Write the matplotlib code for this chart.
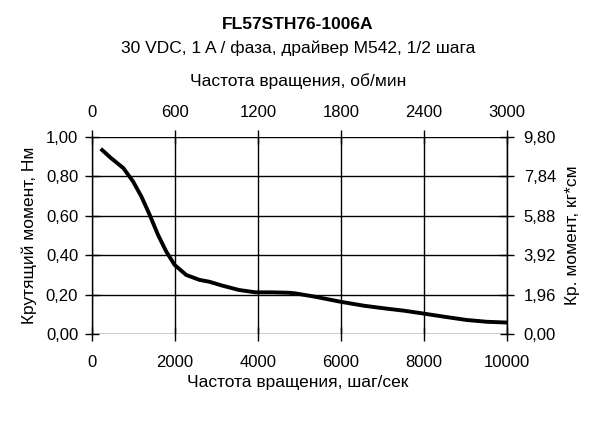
import matplotlib
matplotlib.use("Agg")
import matplotlib.pyplot as plt
from matplotlib.ticker import FuncFormatter

plt.rcParams['font.family'] = ['Liberation Sans', 'DejaVu Sans']

# Data (steps/s -> N*m)
speed_steps = [210, 440, 755, 990, 1190, 1390, 1590, 1790, 1990, 2270,
               2590, 2820, 3140, 3540, 3940, 4330, 4730, 4890, 5370, 5970,
               6560, 7040, 7520, 7940, 8470, 9030, 9510, 10000]
torque_nm = [0.938, 0.894, 0.840, 0.772, 0.696, 0.603, 0.502, 0.417, 0.350, 0.299,
             0.274, 0.265, 0.245, 0.223, 0.211, 0.211, 0.209, 0.206, 0.189, 0.164,
             0.143, 0.130, 0.118, 0.105, 0.088, 0.071, 0.062, 0.058]

x_ticks = [0, 2000, 4000, 6000, 8000, 10000]
y_ticks = [0.0, 0.2, 0.4, 0.6, 0.8, 1.0]
rpm_ticks = [0, 600, 1200, 1800, 2400, 3000]
kgcm_ticks = [0.0, 1.96, 3.92, 5.88, 7.84, 9.80]


def comma(v, p):
    return f"{v:.2f}".replace('.', ',')


fig = plt.figure(figsize=(5.96, 4.22), dpi=100)
ax = fig.add_axes([0.1544, 0.2085, 0.6963, 0.468])

ax.plot(speed_steps, torque_nm, color='black', lw=2.8, solid_capstyle='butt',
        solid_joinstyle='round')
ax.set_xlim(0, 10000)
ax.set_ylim(0, 1.0)
ax.set_xticks(x_ticks)
ax.set_yticks(y_ticks)
ax.yaxis.set_major_formatter(FuncFormatter(comma))
ax.grid(True, color='black', lw=1.0)
ax.set_axisbelow(True)
for s in ax.spines.values():
    s.set_linewidth(1.0)
ax.spines['top'].set_visible(False)
ax.spines['bottom'].set_visible(False)
ax.tick_params(direction='inout', length=10, width=1, labelsize=12)
ax.tick_params(axis='x', pad=10)
ax.tick_params(axis='y', pad=5)

# top axis: rpm
ax_top = ax.twiny()
ax_top.set_xlim(0, 3000)
ax_top.set_xticks(rpm_ticks)
ax_top.tick_params(direction='inout', length=10, width=1, labelsize=12, pad=7)
for s in ax_top.spines.values():
    s.set_visible(False)

# right axis: kg*cm
ax_r = ax.twinx()
ax_r.set_ylim(0, 9.80)
ax_r.set_yticks(kgcm_ticks)
ax_r.yaxis.set_major_formatter(FuncFormatter(comma))
ax_r.tick_params(direction='inout', length=10, width=1, labelsize=12, pad=7)
for name, s in ax_r.spines.items():
    s.set_visible(name == 'right')

# titles and axis labels
fig.text(0.5, 0.941, "FL57STH76-1006A", ha='center', va='center',
         fontsize=12.5, fontweight='bold')
fig.text(0.5, 0.886, "30 VDC, 1 A / фаза, драйвер M542, 1/2 шага",
         ha='center', va='center', fontsize=12.5)
fig.text(0.5, 0.808, "Частота вращения, об/мин", ha='center', va='center',
         fontsize=12.5)
fig.text(0.5, 0.093, "Частота вращения, шаг/сек", ha='center', va='center',
         fontsize=12.5)
fig.text(0.049, 0.443, "Крутящий момент, Нм", ha='center', va='center',
         rotation=90, fontsize=12.5)
fig.text(0.96, 0.443, "Кр. момент, кг*см", ha='center', va='center',
         rotation=90, fontsize=12.5)

fig.savefig("out.png", dpi=100)
